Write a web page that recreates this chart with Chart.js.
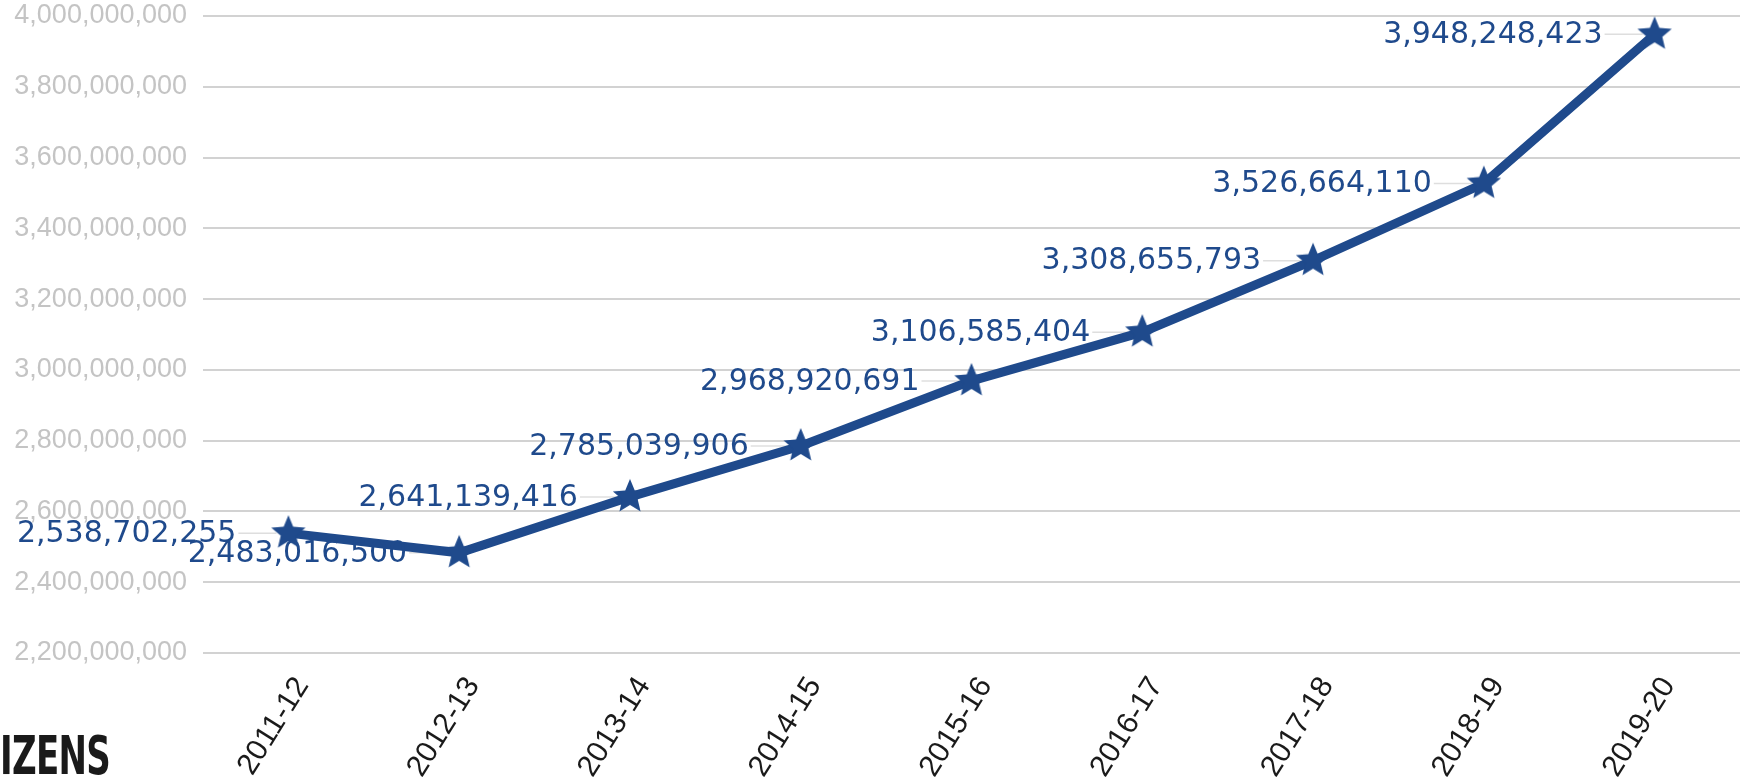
<!DOCTYPE html>
<html>
<head>
<meta charset="utf-8">
<script src="https://cdn.jsdelivr.net/npm/chart.js@4.4.1/dist/chart.umd.min.js"></script>
<style>
  body { margin: 0; background: #fff; }
  #wrap { position: relative; width: 1748px; height: 783px; }
  #brand {
    position: absolute; left: 0; bottom: 0px;
    font-family: "DejaVu Sans Condensed", "Liberation Sans Narrow", sans-serif;
    font-weight: bold; font-size: 54px; color: #1a1a1a;
    letter-spacing: -1px; line-height: 1;
    transform: scaleX(0.7); transform-origin: left bottom;
  }
</style>
</head>
<body>
<div id="wrap">
  <canvas id="data-chart"></canvas>
  <div id="brand">IZENS</div>
</div>
<script>
// years and totals
const years = ['2011-12', '2012-13', '2013-14', '2014-15', '2015-16',
               '2016-17', '2017-18', '2018-19', '2019-20'];
const totals = [2538702255, 2483016500, 2641139416, 2785039906, 2968920691,
                3106585404, 3308655793, 3526664110, 3948248423];
const yMin = 2200000000;
const yMax = 4000000000;
const yStep = 200000000;

const blue = '#1f4a8c';

// filled five point star used as the marker
function makeStar(r) {
  const c = document.createElement('canvas');
  c.width = c.height = r * 2 + 2;
  const g = c.getContext('2d');
  g.fillStyle = blue;
  g.beginPath();
  for (let i = 0; i < 10; i++) {
    const rad = i % 2 === 0 ? r : r * 0.45;
    const a = -Math.PI / 2 + i * Math.PI / 5;
    const px = r + 1 + rad * Math.cos(a);
    const py = r + 1 + rad * Math.sin(a);
    if (i === 0) g.moveTo(px, py); else g.lineTo(px, py);
  }
  g.closePath();
  g.fill();
  return c;
}

const valueLabels = {
  id: 'valueLabels',
  beforeDatasetsDraw(chart) {
    const ctx = chart.ctx;
    const meta = chart.getDatasetMeta(0);
    ctx.save();
    ctx.strokeStyle = 'rgba(200,200,200,0.6)';
    ctx.lineWidth = 1.5;
    meta.data.forEach(pt => {
      ctx.beginPath();
      ctx.moveTo(pt.x - 50, pt.y);
      ctx.lineTo(pt.x - 12, pt.y);
      ctx.stroke();
    });
    ctx.restore();
  },
  afterDatasetsDraw(chart) {
    const ctx = chart.ctx;
    const meta = chart.getDatasetMeta(0);
    ctx.save();
    ctx.font = '30px "DejaVu Sans"';
    ctx.fillStyle = blue;
    ctx.textAlign = 'right';
    ctx.textBaseline = 'middle';
    meta.data.forEach((pt, i) => {
      ctx.fillText(totals[i].toLocaleString('en-US'), pt.x - 52, pt.y + 1);
    });
    ctx.restore();
  }
};

const ctx = document.getElementById('data-chart').getContext('2d');

new Chart(ctx, {
  type: 'line',
  data: {
    labels: years,
    datasets: [{
      data: totals,
      borderColor: blue,
      borderWidth: 9,
      fill: false,
      tension: 0,
      clip: false,
      pointStyle: makeStar(18),
      pointRadius: 18,
    }],
  },
  options: {
    responsive: true,
    maintainAspectRatio: false,
    animation: false,
    layout: { autoPadding: false, padding: { left: 13, right: 8, top: 16, bottom: 0 } },
    plugins: {
      legend: { display: false },
      tooltip: { enabled: false },
    },
    scales: {
      x: {
        offset: true,
        grid: { display: false },
        border: { display: false },
        ticks: {
          color: '#1a1a1a',
          font: { family: 'Liberation Sans', size: 30 },
          minRotation: 58,
          maxRotation: 58,
          padding: 10,
          labelOffset: 14,
        },
        afterFit(scale) {
          scale.height = 130;
          scale.paddingLeft = 0;
          scale.paddingRight = 0;
        },
      },
      y: {
        min: yMin,
        max: yMax,
        grid: { color: '#d2d2d2', lineWidth: 2, drawTicks: false },
        border: { display: false },
        ticks: {
          stepSize: yStep,
          color: '#c4c4c4',
          font: { family: 'Liberation Sans', size: 27 },
          padding: 16,
          callback: v => v.toLocaleString('en-US'),
        },
        afterFit(scale) {
          scale.width = 190;
          scale.paddingTop = 0;
          scale.paddingBottom = 0;
        },
      },
    },
  },
  plugins: [valueLabels],
});
</script>
</body>
</html>
